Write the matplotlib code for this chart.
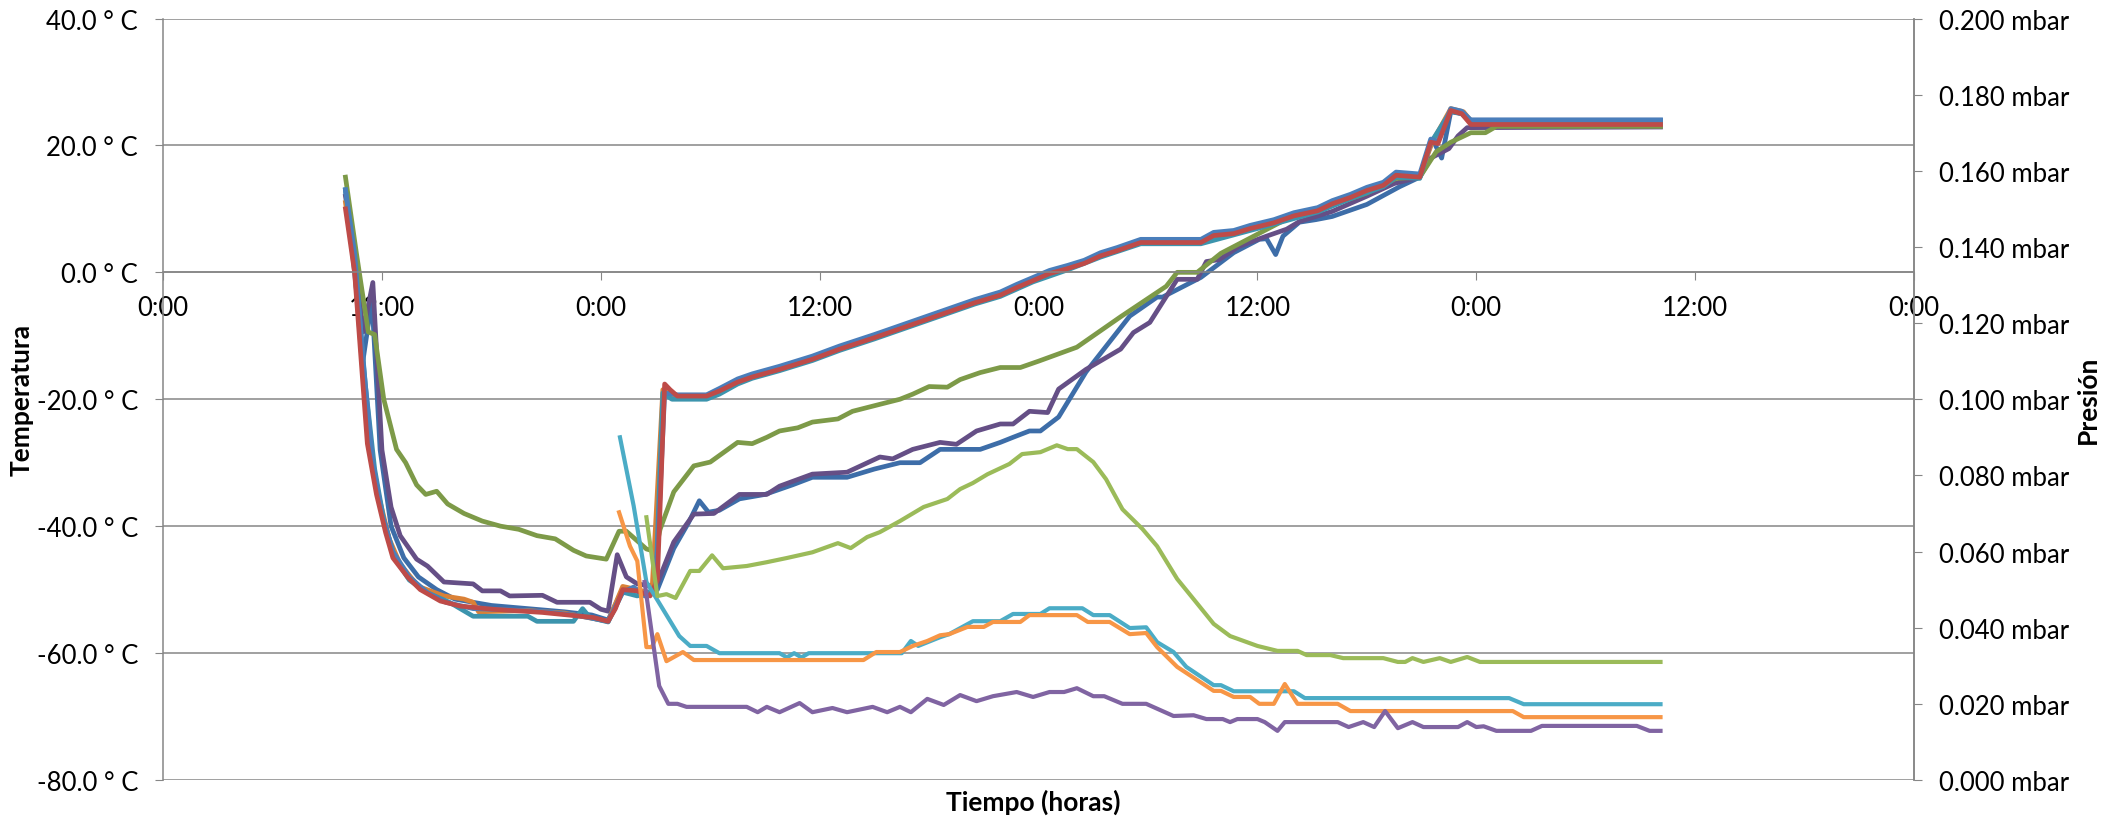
import matplotlib
matplotlib.use("Agg")
import matplotlib.pyplot as plt
from matplotlib.ticker import FixedLocator, FuncFormatter

plt.rcParams['font.family'] = ['Lato', 'DejaVu Sans']

# time in hours from the first 0:00
x_ticks = [0, 12, 24, 36, 48, 60, 72, 84, 96]
x_labels = ["0:00", "12:00", "0:00", "12:00", "0:00", "12:00", "0:00", "12:00", "0:00"]

# ---- temperature series (left axis, deg C) ----
t_red = [10.0, 10.5, 11.2, 11.7, 12.2, 12.6, 13.4, 14.1, 15.2, 16.3, 18.1, 20.8, 23.6, 24.4, 24.8,
         25.2, 26.0, 26.7, 27.1, 27.5, 27.8, 28.2, 29.8, 30.5, 31.5, 32.3, 33.8, 35.6, 37.1, 39.0,
         41.0, 43.0, 44.5, 45.9, 46.8, 47.7, 48.6, 49.6, 50.5, 51.4, 52.3, 53.6, 56.9, 57.6, 58.7,
         59.6, 60.9, 62.0, 63.3, 64.1, 65.1, 66.0, 66.9, 67.6, 68.9, 69.5, 69.9, 70.6, 71.2, 71.7, 82.1]
v_red = [10, 0, -27, -35, -41, -45, -48, -50, -51.8, -52.6, -53.1, -53.6, -54.4, -55, -53,
         -50, -50.2, -51, -48.5, -17.6, -18.5, -19.5, -19.5, -18.7, -17.3, -16.5, -15.3, -13.7, -12.1, -10.3,
         -8.3, -6.3, -4.8, -3.6, -2.4, -1.3, -0.2, 0.6, 1.4, 2.6, 3.4, 4.7, 4.7, 5.8, 6.1,
         6.9, 7.8, 8.9, 9.7, 10.8, 11.8, 12.9, 13.7, 15.3, 15.0, 20.5, 20.3, 25.5, 25.0, 23.3, 23.3]

t_blue = [10.0, 10.5, 11.0, 11.5, 12.0, 12.6, 13.5, 14.5, 15.5, 17.0, 19.0, 21.0, 22.5, 23.5, 24.4,
          25.2, 25.8, 26.4, 27.0, 27.5, 28.2, 29.8, 30.5, 31.5, 32.3, 33.8, 35.6, 37.1, 39.0, 41.0,
          43.0, 44.5, 45.9, 46.8, 47.7, 48.6, 49.6, 50.5, 51.4, 52.3, 53.6, 56.9, 57.6, 58.7, 59.6,
          60.9, 62.0, 63.3, 64.1, 65.1, 66.0, 66.9, 67.6, 68.9, 69.5, 69.9, 70.6, 71.2, 71.7, 82.1]
v_blue = [13, 3, -15, -30, -38, -44, -48, -50.5, -52, -53, -53.2, -53.5, -54, -54.5, -55,
          -50.4, -49.6, -51, -50.5, -19, -19.3, -19.3, -18.3, -16.8, -16.0, -14.8, -13.2, -11.6, -9.8, -7.8,
          -5.8, -4.3, -3.1, -1.9, -0.8, 0.3, 1.1, 1.9, 3.1, 3.9, 5.2, 5.2, 6.3, 6.6, 7.4,
          8.3, 9.4, 10.2, 11.3, 12.3, 13.4, 14.2, 15.8, 15.5, 21.0, 20.6, 25.8, 25.4, 24.0, 24.0]

t_teal = [10.0, 10.5, 11.1, 11.6, 12.1, 12.7, 13.5, 14.5, 15.7, 17.0, 20.0, 20.5, 22.5, 23.0, 23.4,
          24.4, 25.2, 26.0, 26.5, 27.0, 27.4, 27.9, 29.8, 30.5, 31.5, 32.3, 33.8, 35.6, 37.1, 39.0,
          41.0, 43.0, 44.5, 45.9, 47.7, 49.6, 51.4, 53.6, 56.9, 58.7, 60.9, 63.3, 65.1, 66.9, 67.6,
          68.9, 69.5, 70.6, 71.2, 71.7, 82.1]
v_teal = [13, 2, -18, -31, -39, -45, -48.5, -50.5, -52, -54.2, -54.2, -55, -55, -53, -54.4,
          -55.1, -50.4, -51, -50.5, -50, -19, -20, -20, -19.2, -17.6, -16.7, -15.5, -13.9, -12.3, -10.5,
          -8.5, -6.5, -5.0, -3.8, -1.5, 0.4, 2.4, 4.5, 4.5, 5.9, 7.6, 9.5, 11.6, 13.5, 15.0,
          14.8, 20.4, 25.4, 25.0, 23.6, 23.6]

t_dorange = [10.0, 10.5, 11.2, 11.8, 12.4, 13.0, 14.0, 15.4, 16.5, 17.0, 17.3, 20.0, 22.0, 24.4, 25.2,
             26.0, 26.8, 27.4, 28.0, 29.8, 31.5, 33.8, 35.6, 37.1, 39.0, 41.0, 43.0, 45.9, 48.6, 50.5,
             53.6, 56.9, 58.7, 60.9, 63.3, 65.1, 66.9, 67.6, 68.9, 69.6, 70.6, 71.3, 71.8, 82.1]
v_dorange = [11, 1, -25, -35, -42, -46, -49.5, -51, -51.5, -52, -53.5, -53.3, -53.7, -55, -49.5,
             -50, -50.6, -18.5, -19.4, -19.4, -17.1, -15.1, -13.5, -12.0, -10.2, -8.2, -6.2, -3.4, 0.0, 1.6,
             4.9, 4.9, 6.3, 8.1, 10.0, 12.1, 13.9, 15.5, 15.2, 20.6, 25.8, 25.3, 23.5, 23.5]

t_olive = [10.0, 10.6, 11.25, 11.6, 12.1, 12.8, 13.3, 13.9, 14.4, 15.0, 15.6, 16.5, 17.5, 18.5, 19.5,
           20.5, 21.5, 22.5, 23.2, 24.3, 25.0, 25.4, 26.5, 27.0, 27.25, 28.0, 29.1, 30.0, 31.5, 32.3,
           33.1, 33.8, 34.8, 35.6, 37.0, 37.8, 39.3, 40.4, 41.1, 42.0, 43.0, 43.7, 44.8, 45.9, 47.0,
           48.0, 50.1, 52.5, 55.0, 55.6, 56.7, 58.0, 60.0, 62.0, 64.0, 66.0, 67.6, 68.9, 69.8, 70.6,
           71.7, 72.5, 73.1, 82.1]
v_olive = [15, 3, -9.4, -9.8, -20, -27.9, -30, -33.5, -35, -34.5, -36.5, -38, -39.2, -40, -40.5,
           -41.5, -42, -43.8, -44.7, -45.2, -40.8, -40.8, -43.6, -44, -40.5, -34.6, -30.5, -29.9, -26.8, -27,
           -26, -25, -24.5, -23.6, -23.1, -21.9, -20.8, -20, -19.2, -18, -18.1, -16.9, -15.8, -15, -15,
           -14, -11.8, -7, -2.2, 0, 0, 3, 6, 9, 10.5, 12.5, 14.8, 15, 19, 20.5,
           22, 22, 23, 23]

t_dpurple = [10.0, 10.5, 10.97, 11.5, 12.0, 12.5, 13.0, 13.9, 14.5, 15.4, 17.0, 17.5, 18.5, 19.0, 20.8,
             21.6, 23.4, 24.0, 24.4, 24.9, 25.4, 26.0, 26.7, 27.1, 28.0, 29.1, 30.2, 31.6, 33.1, 33.8,
             35.6, 37.5, 39.3, 40.0, 41.1, 42.6, 43.5, 44.6, 45.9, 46.6, 47.5, 48.5, 49.1, 50.6, 52.5,
             53.2, 54.1, 55.6, 56.7, 57.2, 57.9, 59.0, 60.5, 61.6, 62.3, 64.1, 66.0, 67.5, 68.9, 69.5,
             70.5, 71.0, 71.5, 82.1]
v_dpurple = [12, 3, -9.4, -1.6, -28, -37, -41.5, -45.2, -46.3, -48.8, -49.1, -50.2, -50.2, -51, -50.9,
             -52, -52, -53.1, -53.4, -44.5, -48, -49.1, -49.4, -49, -42.5, -38.1, -38, -35, -35, -33.7,
             -31.8, -31.5, -29.1, -29.4, -27.9, -26.8, -27.1, -25, -23.9, -23.9, -21.9, -22.1, -18.4, -15.3, -12.1,
             -9.5, -7.9, -1.1, -1.1, 1.7, 2, 4.1, 5.7, 6.8, 8, 9.6, 12, 14, 15, 18,
             19.5, 21.5, 22.8, 22.9]

t_dblue = [10.0, 10.5, 10.97, 11.45, 11.9, 12.5, 13.2, 14.0, 15.0, 16.0, 18.0, 20.0, 22.0, 23.5, 24.4,
           25.1, 25.8, 26.5, 27.1, 28.0, 28.8, 29.4, 29.9, 30.5, 31.6, 33.0, 34.5, 35.6, 37.5, 39.0,
           40.4, 41.5, 42.6, 44.8, 45.9, 46.6, 47.5, 48.1, 49.1, 50.6, 53.0, 54.5, 54.8, 56.9, 58.7,
           60.1, 60.5, 61.0, 61.4, 62.3, 63.2, 64.1, 66.0, 67.8, 68.9, 69.6, 70.1, 70.6, 71.2, 71.7, 82.1]
v_dblue = [13, 0, -13.7, -4.3, -28, -40, -45, -48, -50, -51.5, -52.5, -53, -53.5, -54, -54.8,
           -50.5, -50, -51, -50, -43.5, -39.5, -36, -37.8, -37.5, -35.7, -35, -33.5, -32.3, -32.3, -31,
           -30, -30, -27.9, -27.9, -26.8, -26, -25, -25, -22.8, -15.7, -6.9, -3.9, -3.9, -0.8, 3.1,
           5.2, 5.3, 2.8, 5.7, 7.9, 8.3, 8.8, 10.7, 13.5, 15, 21, 18, 25.3, 25, 24, 24]

# ---- pressure series (right axis, mbar) ----
t_p_aqua = [25.05, 25.8, 26.5, 27.4, 28.3, 28.9, 29.8, 30.5, 33.8, 34.2, 34.6, 35.0, 35.4, 37.8, 40.5,
            41.0, 41.4, 42.6, 43.1, 44.4, 45.9, 46.6, 48.1, 48.6, 50.4, 51.0, 51.9, 53.0, 53.9, 54.5,
            55.4, 56.1, 57.6, 58.0, 58.7, 62.0, 62.6, 73.8, 74.6, 82.1]
p_aqua = [0.090, 0.072, 0.052, 0.0449, 0.0378, 0.0352, 0.0352, 0.0333, 0.0333, 0.0322, 0.0333, 0.0322, 0.0333, 0.0333, 0.0333,
          0.0365, 0.0352, 0.0375, 0.0383, 0.0417, 0.0417, 0.0436, 0.0436, 0.0451, 0.0451, 0.0433, 0.0433, 0.0399, 0.0401, 0.0362,
          0.0336, 0.0297, 0.0249, 0.0249, 0.0233, 0.0233, 0.0215, 0.0215, 0.0199, 0.0199]

t_p_orange = [25.0, 25.6, 26.0, 26.5, 26.8, 27.1, 27.6, 28.5, 29.1, 38.4, 39.1, 40.4, 41.1, 41.9, 42.6,
              43.1, 44.1, 45.0, 45.5, 47.0, 47.5, 50.1, 50.7, 51.9, 53.0, 53.9, 54.5, 55.6, 57.6, 58.0,
              58.7, 59.6, 60.1, 60.9, 61.5, 62.2, 64.4, 65.1, 74.0, 74.6, 82.1]
p_orange = [0.0703, 0.0614, 0.0575, 0.0349, 0.0349, 0.0383, 0.0312, 0.0336, 0.0315, 0.0315, 0.0336, 0.0336, 0.0352, 0.0365, 0.038,
            0.0383, 0.0402, 0.0402, 0.0415, 0.0415, 0.0433, 0.0433, 0.0415, 0.0415, 0.0383, 0.0386, 0.0349, 0.0297, 0.0234, 0.0234,
            0.0218, 0.0218, 0.020, 0.020, 0.0252, 0.020, 0.020, 0.0181, 0.0181, 0.0165, 0.0165]

t_p_green = [26.5, 27.1, 27.6, 28.1, 28.9, 29.4, 30.1, 30.7, 32.0, 33.1, 34.2, 35.6, 37.0, 37.7, 38.6,
             39.3, 40.4, 41.7, 43.0, 43.7, 44.4, 45.2, 46.4, 47.1, 48.1, 49.0, 49.6, 50.1, 51.0, 51.7,
             52.6, 53.7, 54.5, 55.6, 56.5, 57.6, 58.5, 60.0, 61.1, 62.2, 62.7, 64.0, 64.7, 66.9, 67.7,
             68.1, 68.5, 69.1, 70.0, 70.6, 71.5, 72.2, 82.1]
p_green = [0.069, 0.0483, 0.0488, 0.0478, 0.0549, 0.0549, 0.059, 0.0556, 0.0562, 0.0572, 0.0583, 0.0598, 0.0622, 0.0609, 0.0638,
           0.0651, 0.068, 0.0717, 0.0738, 0.0764, 0.078, 0.0803, 0.083, 0.0856, 0.0861, 0.0879, 0.0869, 0.0869, 0.0835, 0.079,
           0.0711, 0.0659, 0.0614, 0.0528, 0.0475, 0.041, 0.0378, 0.0352, 0.0339, 0.0339, 0.0328, 0.0328, 0.032, 0.032, 0.031,
           0.031, 0.032, 0.031, 0.032, 0.031, 0.0323, 0.031, 0.031]

t_p_purple = [26.4, 27.2, 27.7, 28.2, 28.7, 32.0, 32.6, 33.1, 33.8, 34.9, 35.6, 36.7, 37.5, 38.9, 39.7,
              40.4, 41.0, 41.9, 42.8, 43.7, 44.6, 45.5, 46.8, 47.7, 48.6, 49.4, 50.1, 51.0, 51.6, 52.6,
              53.9, 55.4, 56.5, 57.2, 58.1, 58.5, 58.9, 60.0, 60.4, 61.1, 61.5, 64.4, 65.0, 65.8, 66.4,
              67.0, 67.7, 68.5, 69.1, 71.0, 71.5, 72.0, 72.4, 73.1, 75.0, 75.6, 80.8, 81.5, 82.1]
p_purple = [0.052, 0.0247, 0.020, 0.020, 0.0192, 0.0192, 0.0178, 0.0192, 0.0178, 0.0202, 0.0178, 0.0189, 0.0178, 0.0192, 0.0178,
            0.0192, 0.0178, 0.0213, 0.0197, 0.0223, 0.0207, 0.022, 0.0231, 0.0218, 0.0231, 0.0231, 0.0241, 0.022, 0.022, 0.020,
            0.020, 0.0168, 0.017, 0.016, 0.016, 0.0152, 0.016, 0.016, 0.0152, 0.0129, 0.0152, 0.0152, 0.0139, 0.0152, 0.0139,
            0.0181, 0.0136, 0.0152, 0.0139, 0.0139, 0.0152, 0.0139, 0.0141, 0.0129, 0.0129, 0.0142, 0.0142, 0.0129, 0.0129]

grid_col = "#868686"

fig = plt.figure(figsize=(21.18, 8.2), dpi=100)
ax = fig.add_axes([0.077, 0.0476, 0.8267, 0.9286])
ax2 = ax.twinx()

# temperature lines
lw_t = 3.4
ax.plot(t_dblue, v_dblue, color="#3D6DA8", lw=lw_t, solid_joinstyle='round')
ax.plot(t_dpurple, v_dpurple, color="#654F86", lw=lw_t, solid_joinstyle='round')
ax.plot(t_olive, v_olive, color="#7D9A48", lw=lw_t, solid_joinstyle='round')
ax.plot(t_dorange, v_dorange, color="#DA8137", lw=lw_t, solid_joinstyle='round')
ax.plot(t_teal, v_teal, color="#3C94AD", lw=lw_t, solid_joinstyle='round')
ax.plot(t_blue, v_blue, color="#4A7EBB", lw=lw_t, solid_joinstyle='round')
ax.plot(t_red, v_red, color="#BE4B48", lw=lw_t, solid_joinstyle='round')

# pressure lines
lw_p = 3.0
ax2.plot(t_p_aqua, p_aqua, color="#4BACC6", lw=lw_p, solid_joinstyle='round')
ax2.plot(t_p_orange, p_orange, color="#F79646", lw=lw_p, solid_joinstyle='round')
ax2.plot(t_p_green, p_green, color="#9BBB59", lw=lw_p, solid_joinstyle='round')
ax2.plot(t_p_purple, p_purple, color="#8064A2", lw=lw_p, solid_joinstyle='round')

# left axis
ax.set_xlim(0, 96)
ax.set_ylim(-80, 40)
ax.set_yticks(range(-80, 41, 20))
ax.yaxis.set_major_formatter(FuncFormatter(lambda v, p: "%.1f ° C" % v))
ax.yaxis.grid(True, color=grid_col, lw=1.1)
ax.set_axisbelow(True)
ax.tick_params(axis='y', direction='out', length=6, color=grid_col, labelsize=18.5, pad=12)

# x axis sits on the 0 line
ax.spines['bottom'].set_position(('data', 0))
ax.xaxis.set_major_locator(FixedLocator(x_ticks))
ax.set_xticklabels(x_labels)
ax.tick_params(axis='x', direction='out', length=6, color=grid_col, labelsize=18.5, pad=10)
for s in ['left', 'bottom', 'right']:
    ax.spines[s].set_color(grid_col)
    ax.spines[s].set_linewidth(1.1)
ax.spines['top'].set_visible(False)

# right axis
ax2.set_ylim(0, 0.2)
ax2.set_yticks([i * 0.02 for i in range(11)])
ax2.yaxis.set_major_formatter(FuncFormatter(lambda v, p: "%.3f mbar" % v))
ax2.tick_params(axis='y', direction='out', length=6, color=grid_col, labelsize=18.5, pad=12)
ax2.spines['right'].set_color(grid_col)
ax2.spines['right'].set_linewidth(1.1)
for s in ['left', 'bottom', 'top']:
    ax2.spines[s].set_visible(False)

fig.text(0.0104, 0.512, "Temperatura", rotation=90, ha='center', va='center',
         fontsize=19, fontweight='bold')
fig.text(0.986, 0.512, "Presión", rotation=90, ha='center', va='center',
         fontsize=19, fontweight='bold')
fig.text(0.488, 0.022, "Tiempo (horas)", ha='center', va='center',
         fontsize=19, fontweight='bold')

fig.savefig("out.png", dpi=100)
